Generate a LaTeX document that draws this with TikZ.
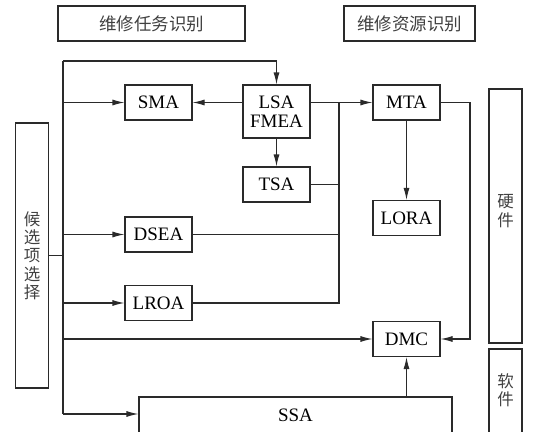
\documentclass[tikz,border=0pt]{standalone}
\usepackage{fontspec}
\setmainfont{Liberation Serif}
\newfontfamily\cjk{Noto Sans CJK SC}
\usetikzlibrary{arrows.meta, positioning}
\definecolor{box-border}{HTML}{2A2A2A}
\definecolor{wire}{HTML}{2A2A2A}
\definecolor{cjk-text}{HTML}{404040}
\tikzset{
  blk/.style={
    draw=box-border, line width=1.1pt, minimum width=67pt, minimum height=35pt,
    inner sep=0pt, align=center, font=\fontsize{19}{19.5}\selectfont
  },
  headbox/.style={
    draw=box-border, line width=1.1pt, minimum height=35pt, inner sep=0pt,
    font=\cjk\fontsize{17.5}{18}\selectfont, text=cjk-text
  },
  sidebox/.style={draw=box-border, line width=1.1pt, minimum width=33pt, inner sep=0pt},
  vtext/.style={font=\cjk\fontsize{16.5}{18.3}\selectfont, text=cjk-text, align=center},
  link/.style={line width=1.1pt, draw=wire},
  arr/.style={-{Latex[length=12pt, width=6pt]}, line width=1.1pt, draw=wire}
}

\begin{document}
\begin{tikzpicture}[x=1pt, y=-1pt]
  \clip (0,0) rectangle (537,431);

  % ---- Headings ------------------------------------------------------------
  \node[headbox, minimum width=187pt] (task) at (151.5, 23.5) {维修任务识别};
  \node[headbox, minimum width=131pt] (res)  at (409.5, 23.5) {维修资源识别};

  % ---- Side columns --------------------------------------------------------
  \node[sidebox, minimum height=265pt] (sel) at (32, 255.5) {};
  \node[vtext] at (sel.center) {候\\选\\项\\选\\择};
  \node[sidebox, minimum height=254pt] (hw)  at (505.5, 216) {};
  \node[vtext] at (505.5, 211) {硬\\件};
  \node[sidebox, minimum height=84pt]  (sw)  at (505.5, 391) {};
  \node[vtext] at (505.5, 390) {软\\件};

  % ---- Analysis blocks -----------------------------------------------------
  \node[blk] (sma)  at (158.5, 102.5) {SMA};
  \node[blk, minimum height=53pt] (lsa) at (276.5, 111.5) {LSA\\FMEA};
  \node[blk] (mta)  at (406.5, 102.5) {MTA};
  \node[blk] (tsa)  at (276.5, 184.5) {TSA};
  \node[blk] (lora) at (406.5, 218)   {LORA};
  \node[blk] (dsea) at (158.5, 234.5) {DSEA};
  \node[blk] (lroa) at (158.5, 303)   {LROA};
  \node[blk] (dmc)  at (406.5, 339)   {DMC};
  \node[blk, minimum width=313pt, minimum height=36pt] (ssa) at (295.5, 415) {SSA};

  % ---- Distribution bus from the candidate selection ----------------------
  \coordinate (bt) at (63, 61);
  \coordinate (bb) at (63, 414);
  \draw[link] (bt) -- (bb);
  \draw[link] (sel.east) -- (sel.east -| bt);
  \draw[arr] (bt) -- (bt -| lsa.north) -- (lsa.north);
  \draw[arr] (bt |- sma) -- (sma.west);
  \draw[arr] (bt |- dsea) -- (dsea.west);
  \draw[arr] (bt |- lroa) -- (lroa.west);
  \draw[arr] (bt |- dmc) -- (dmc.west);
  \draw[arr] (bb) -- (bb -| ssa.west);

  % ---- LSA outputs ---------------------------------------------------------
  \draw[arr] (lsa.west |- sma) -- (sma.east);
  \draw[arr] (lsa.east |- mta) -- (mta.west);
  \draw[arr] (lsa.south) -- (tsa.north);

  % ---- Collector into MTA --------------------------------------------------
  \coordinate (jn) at (339, 102.5);
  \draw[link] (jn) -- (jn |- lroa.east) -- (lroa.east);
  \draw[link] (tsa.east) -- (tsa.east -| jn);
  \draw[link] (dsea.east) -- (dsea.east -| jn);

  % ---- Resource side -------------------------------------------------------
  \coordinate (mr) at (470, 102.5);
  \draw[arr] (mta.south) -- (lora.north);
  \draw[arr] (mta.east) -- (mr) -- (mr |- dmc.east) -- (dmc.east);
  \draw[arr] (dmc.south |- ssa.north) -- (dmc.south);

\end{tikzpicture}
\end{document}
